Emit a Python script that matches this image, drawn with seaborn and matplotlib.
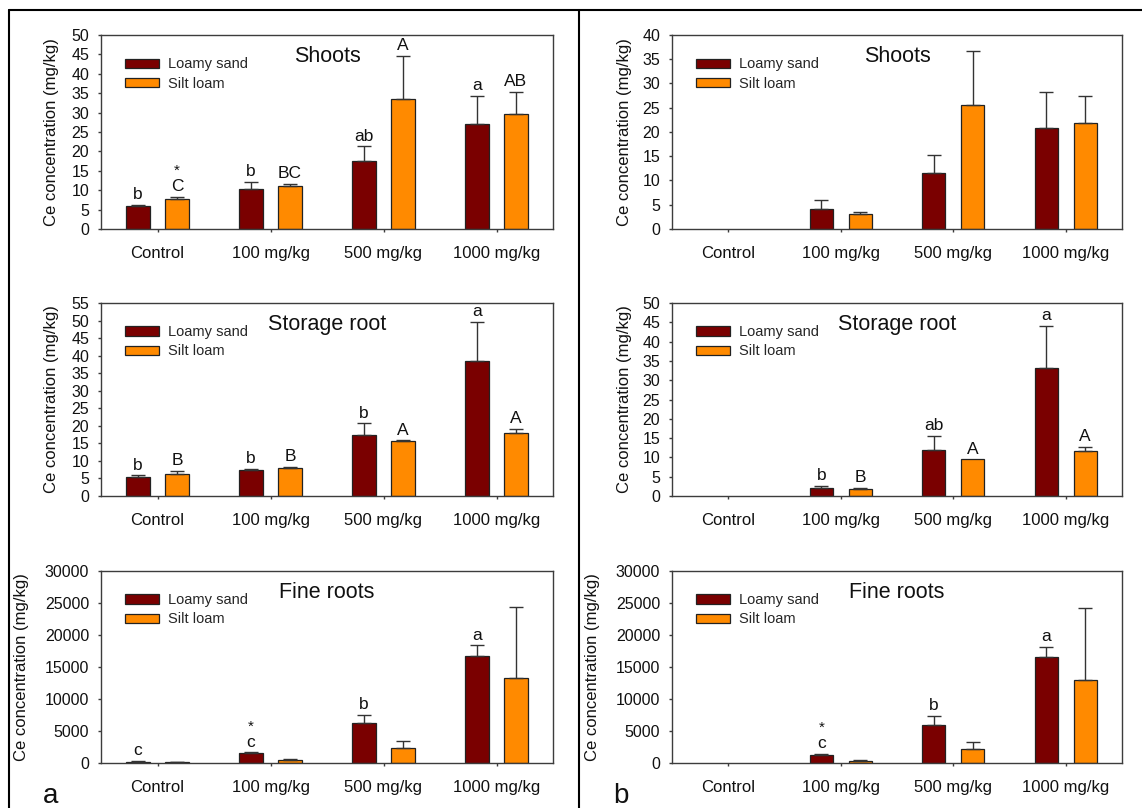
import numpy as np
import pandas as pd
import matplotlib
matplotlib.use("Agg")
import matplotlib.pyplot as plt
import matplotlib.patches as mpatches
from matplotlib.lines import Line2D
import seaborn as sns

# ---- data -------------------------------------------------------------
doses = ["Control", "100 mg/kg", "500 mg/kg", "1000 mg/kg"]
soils = ["Loamy sand", "Silt loam"]
nan = np.nan

# (a) shoots
a_shoot_ls = [6.0, 10.2, 17.6, 27.0]
a_shoot_ls_se = [0.2, 1.9, 3.7, 7.3]
a_shoot_sl = [7.8, 11.0, 33.4, 29.6]
a_shoot_sl_se = [0.5, 0.6, 11.3, 5.7]
a_shoot_ls_let = ["b", "b", "ab", "a"]
a_shoot_sl_let = ["C", "BC", "A", "AB"]
a_shoot_ls_star = [False, False, False, False]
a_shoot_sl_star = [True, False, False, False]

# (b) shoots
b_shoot_ls = [nan, 4.1, 11.6, 20.8]
b_shoot_ls_se = [nan, 1.9, 3.6, 7.4]
b_shoot_sl = [nan, 3.1, 25.5, 21.8]
b_shoot_sl_se = [nan, 0.5, 11.3, 5.7]

# (a) storage root
a_store_ls = [5.3, 7.3, 17.3, 38.6]
a_store_ls_se = [0.6, 0.4, 3.4, 11.0]
a_store_sl = [6.4, 8.1, 15.8, 17.9]
a_store_sl_se = [0.65, 0.3, 0.05, 1.2]
a_store_ls_let = ["b", "b", "b", "a"]
a_store_sl_let = ["B", "B", "A", "A"]

# (b) storage root
b_store_ls = [nan, 2.2, 12.0, 33.1]
b_store_ls_se = [nan, 0.5, 3.5, 11.0]
b_store_sl = [nan, 1.8, 9.5, 11.6]
b_store_sl_se = [nan, 0.3, 0.0, 1.2]
b_store_ls_let = ["", "b", "ab", "a"]
b_store_sl_let = ["", "B", "A", "A"]

# (a) fine roots
a_fine_ls = [200, 1500, 6190, 16740]
a_fine_ls_se = [100, 160, 1300, 1620]
a_fine_sl = [100, 470, 2390, 13260]
a_fine_sl_se = [50, 100, 990, 11080]
a_fine_ls_let = ["c", "c", "b", "a"]
a_fine_ls_star = [False, True, False, False]

# (b) fine roots
b_fine_ls = [nan, 1300, 5980, 16540]
b_fine_ls_se = [nan, 160, 1350, 1660]
b_fine_sl = [nan, 360, 2180, 13000]
b_fine_sl_se = [nan, 110, 1040, 11280]
b_fine_ls_let = ["", "c", "b", "a"]
b_fine_ls_star = [False, True, False, False]

colors = {"Loamy sand": "#7a0000", "Silt loam": "#ff8a00"}

# ---- style --------------------------------------------------------------
sns.set_theme(style="white")
plt.rcParams["font.family"] = ["Liberation Sans", "DejaVu Sans"]
SPINE = "#3c3c3c"

W, H = 1142, 808
fig = plt.figure(figsize=(W / 100, H / 100), dpi=100)


def px_axes(left, right, top, bottom):
    return fig.add_axes([left / W, 1 - bottom / H, (right - left) / W, (bottom - top) / H])


def panel(ax, title, ls, ls_se, sl, sl_se, ymax, ystep, ls_let=None, sl_let=None,
          ls_star=None, sl_star=None, ylab_x=-0.093):
    df = pd.DataFrame({
        "dose": doses * 2,
        "soil": [soils[0]] * 4 + [soils[1]] * 4,
        "conc": list(ls) + list(sl),
    })
    sns.barplot(data=df, x="dose", y="conc", hue="soil", order=doses, hue_order=soils,
                palette=colors, saturation=1, width=0.69, gap=0.4, errorbar=None,
                edgecolor="#222222", linewidth=0.9, legend=False, ax=ax)

    se = {soils[0]: ls_se, soils[1]: sl_se}
    lets = {soils[0]: ls_let, soils[1]: sl_let}
    stars = {soils[0]: ls_star, soils[1]: sl_star}
    for patch in ax.patches:
        h = patch.get_height()
        if not np.isfinite(h):
            continue
        xc = patch.get_x() + patch.get_width() / 2
        i = int(round(xc))
        soil = soils[0] if xc < i else soils[1]
        e = se[soil][i]
        top = h
        if np.isfinite(e) and e > 0:
            ax.errorbar(xc, h, yerr=[[0], [e]], fmt="none", ecolor="#333333",
                        elinewidth=1.0, capsize=5, capthick=1.0, zorder=1)
            top = h + e
        lab = lets[soil][i] if lets[soil] else ""
        if lab:
            ax.annotate(lab, (xc, top), xytext=(0, 2), textcoords="offset points",
                        ha="center", va="bottom", fontsize=12.5, color="#111111")
            if stars[soil] and stars[soil][i]:
                ax.annotate("*", (xc, top), xytext=(0, 13.5), textcoords="offset points",
                            ha="center", va="bottom", fontsize=11, color="#111111")

    ax.set_xlim(-0.5, 3.5)
    ax.set_ylim(0, ymax)
    ax.set_yticks(np.arange(0, ymax + ystep / 2, ystep))
    ax.set_xlabel("")
    ax.set_ylabel("Ce concentration (mg/kg)", fontsize=12, color="#111111")
    ax.yaxis.set_label_coords(ylab_x, 0.5)
    ax.tick_params(axis="y", direction="out", length=2.5, width=1, color=SPINE,
                   labelsize=11.5, pad=6, left=True, labelcolor="#111111")
    ax.tick_params(axis="x", direction="out", length=2.5, width=1, color=SPINE,
                   labelsize=12, pad=10, bottom=True, labelcolor="#111111")
    for s in ax.spines.values():
        s.set_color(SPINE)
        s.set_linewidth(1.0)
        s.set_visible(True)
    ax.text(0.5, 0.887, title, transform=ax.transAxes, ha="center", va="center",
            fontsize=15.5, color="#111111")
    handles = [mpatches.Patch(facecolor=colors[s], edgecolor="#222222", linewidth=0.9, label=s)
               for s in soils]
    ax.legend(handles=handles, loc="upper left", bbox_to_anchor=(0.053, 0.885),
              frameon=False, fontsize=10.5, handlelength=2.35, handleheight=0.6,
              handletextpad=0.62, labelspacing=0.36, borderpad=0, borderaxespad=0)


cols = [(101, 553), (672, 1122)]
rows = [(35, 229), (303, 496), (571, 763)]

ax = px_axes(*cols[0], *rows[0])
panel(ax, "Shoots", a_shoot_ls, a_shoot_ls_se, a_shoot_sl, a_shoot_sl_se, 50, 5,
      a_shoot_ls_let, a_shoot_sl_let, a_shoot_ls_star, a_shoot_sl_star, ylab_x=-0.093)
ax = px_axes(*cols[1], *rows[0])
panel(ax, "Shoots", b_shoot_ls, b_shoot_ls_se, b_shoot_sl, b_shoot_sl_se, 40, 5,
      ylab_x=-0.090)
ax = px_axes(*cols[0], *rows[1])
panel(ax, "Storage root", a_store_ls, a_store_ls_se, a_store_sl, a_store_sl_se, 55, 5,
      a_store_ls_let, a_store_sl_let, ylab_x=-0.093)
ax = px_axes(*cols[1], *rows[1])
panel(ax, "Storage root", b_store_ls, b_store_ls_se, b_store_sl, b_store_sl_se, 50, 5,
      b_store_ls_let, b_store_sl_let, ylab_x=-0.090)
ax = px_axes(*cols[0], *rows[2])
panel(ax, "Fine roots", a_fine_ls, a_fine_ls_se, a_fine_sl, a_fine_sl_se, 30000, 5000,
      a_fine_ls_let, None, a_fine_ls_star, None, ylab_x=-0.16)
ax = px_axes(*cols[1], *rows[2])
panel(ax, "Fine roots", b_fine_ls, b_fine_ls_se, b_fine_sl, b_fine_sl_se, 30000, 5000,
      b_fine_ls_let, None, b_fine_ls_star, None, ylab_x=-0.16)

# frame lines around the two halves
fig.add_artist(Line2D([9 / W, 1], [1 - 9.5 / H] * 2, transform=fig.transFigure,
                      color="black", linewidth=1.5))
fig.add_artist(Line2D([9 / W] * 2, [0, 1 - 9.5 / H], transform=fig.transFigure,
                      color="black", linewidth=1.5))
fig.add_artist(Line2D([579 / W] * 2, [0, 1 - 9.5 / H], transform=fig.transFigure,
                      color="black", linewidth=1.5))

fig.text(43 / W, 1 - 803 / H, "a", fontsize=20, va="baseline", ha="left", color="#111111")
fig.text(613 / W, 1 - 803 / H, "b", fontsize=20, va="baseline", ha="left", color="#111111")

fig.savefig("out.png", dpi=100)
